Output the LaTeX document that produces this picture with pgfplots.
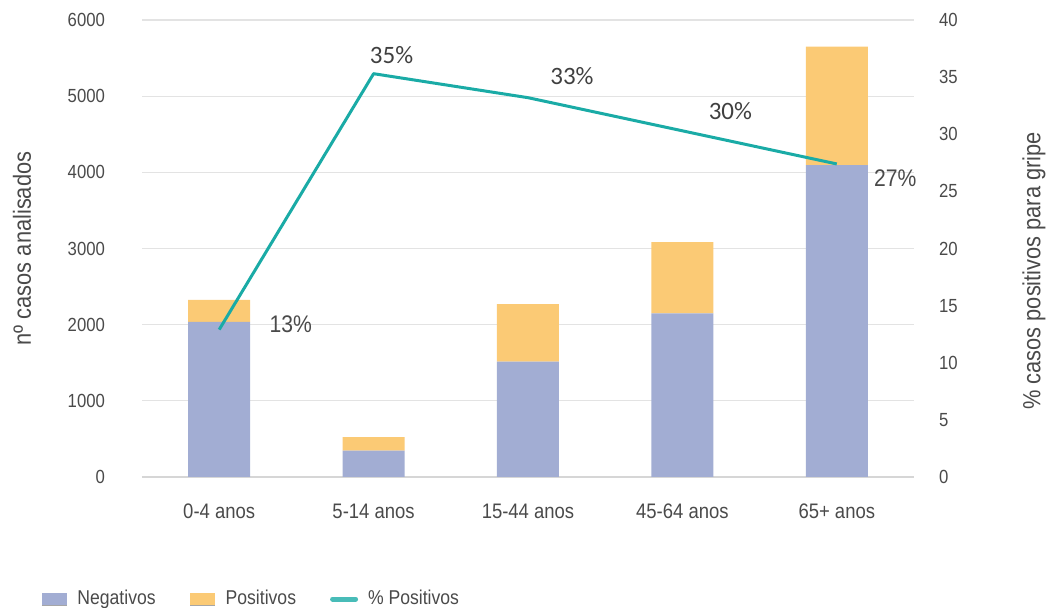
\documentclass[border=0pt]{standalone}
\usepackage{fontspec}
\usepackage{pgfplots}
\usepackage{pgfplotstable}
\pgfplotsset{compat=1.18}
\setmainfont[FakeStretch=0.88]{Liberation Sans}
\newfontfamily\labelfont{Carlito}

\definecolor{negcol}{HTML}{A2ADD3}
\definecolor{poscol}{HTML}{FBCA75}
\definecolor{linecol}{HTML}{1AABA6}
\definecolor{txtcol}{HTML}{4A4A4A}
\definecolor{valcol}{HTML}{404040}
\definecolor{gridcol}{HTML}{E3E3E3}
\definecolor{axiscol}{HTML}{D6D6D6}

% cases analysed per age group: negatives and positives
\pgfplotstableread{
x neg pos
0 2035 289
1 345 180
2 1514 757
3 2149 936
4 4096 1554
}\casos

\begin{document}
\begin{tikzpicture}
\path[use as bounding box] (-71pt,-65.5pt) rectangle (454.5pt,238.5pt);

\begin{axis}[
  at={(0,0)}, anchor=south west,
  scale only axis, width=386pt, height=228.5pt,
  xmin=-0.5, xmax=4.5, ymin=0, ymax=6000,
  ybar stacked, bar width=31pt,
  xtick={0,1,2,3,4},
  xticklabels={0-4 anos, 5-14 anos, 15-44 anos, 45-64 anos, 65+ anos},
  ytick={0,1000,...,6000},
  ymajorgrids, major grid style={gridcol, line width=0.6pt},
  axis x line*=bottom, axis y line*=left,
  x axis line style={axiscol, line width=1.3pt, -},
  y axis line style={draw=none},
  major tick length=0pt,
  /pgf/number format/assume math mode=true,
  /pgf/number format/1000 sep={},
  scaled y ticks=false,
  tick label style={text=txtcol},
  yticklabel style={font=\fontsize{9.5}{11}\selectfont, anchor=east, xshift=-15pt},
  xticklabel style={font=\fontsize{10.5}{12}\selectfont, anchor=base, yshift=-21pt},
  ylabel={nº casos analisados},
  ylabel style={at={(axis description cs:-0.1554,0.5)}, anchor=center,
    font=\fontsize{12.4}{14}\selectfont, text=txtcol},
  legend columns=3,
  legend style={at={(axis description cs:-0.1386,-0.267)}, anchor=west,
    draw=none, fill=none, font=\fontsize{10}{12}\selectfont, text=txtcol,
    /tikz/every odd column/.append style={column sep=3pt},
    /tikz/every even column/.append style={column sep=15pt}},
]
\addplot[fill=negcol, draw=none,
  legend image code/.code={\fill[negcol] (0pt,-3pt) rectangle (12.5pt,3pt);
    \draw[gray!70, line width=0.5pt] (0pt,-3pt) -- (12.5pt,-3pt);}]
  table[x=x, y=neg]{\casos};
\addlegendentry{Negativos}
\addplot[fill=poscol, draw=none,
  legend image code/.code={\fill[poscol] (0pt,-3pt) rectangle (12.5pt,3pt);
    \draw[gray!70, line width=0.5pt] (0pt,-3pt) -- (12.5pt,-3pt);}]
  table[x=x, y=pos]{\casos};
\addlegendentry{Positivos}
\addlegendimage{legend image code/.code={\draw[linecol!80!white, line width=2.5pt, line cap=round] (0.5pt,0pt) -- (12pt,0pt);}}
\addlegendentry{\% Positivos}
\end{axis}

\begin{axis}[
  at={(0,0)}, anchor=south west,
  scale only axis, width=386pt, height=228.5pt,
  xmin=-0.5, xmax=4.5, ymin=0, ymax=40,
  clip=false,
  axis x line=none, axis y line*=right,
  y axis line style={draw=none},
  ytick={0,5,...,40},
  major tick length=0pt,
  /pgf/number format/assume math mode=true,
  yticklabel style={font=\fontsize{9.5}{11}\selectfont, text=txtcol, anchor=west, xshift=9pt},
  ylabel={\% casos positivos para gripe},
  ylabel style={at={(axis description cs:1.1554,0.451)}, anchor=center,
    font=\fontsize{12.4}{14}\selectfont, text=txtcol},
]
\addplot[linecol, line width=1.5pt, line join=round] coordinates {
  (0,12.9) (1,35.3) (2,33.2) (3,30.3) (4,27.4)
};
\node[font=\fontsize{12}{14}\selectfont, text=txtcol, xshift=35.75pt, yshift=2.5pt] at (axis cs:0,12.9) {13\%};
\node[font=\labelfont\fontsize{12.5}{14}\selectfont, text=valcol, xshift=9pt, yshift=9.5pt] at (axis cs:1,35.3) {35\%};
\node[font=\labelfont\fontsize{12.5}{14}\selectfont, text=valcol, xshift=22pt, yshift=11pt] at (axis cs:2,33.2) {33\%};
\node[font=\labelfont\fontsize{12.5}{14}\selectfont, text=valcol, xshift=24pt, yshift=10pt] at (axis cs:3,30.3) {30\%};
\node[font=\fontsize{12}{14}\selectfont, text=txtcol, xshift=29.25pt, yshift=-7pt] at (axis cs:4,27.4) {27\%};
\end{axis}
\end{tikzpicture}
\end{document}
